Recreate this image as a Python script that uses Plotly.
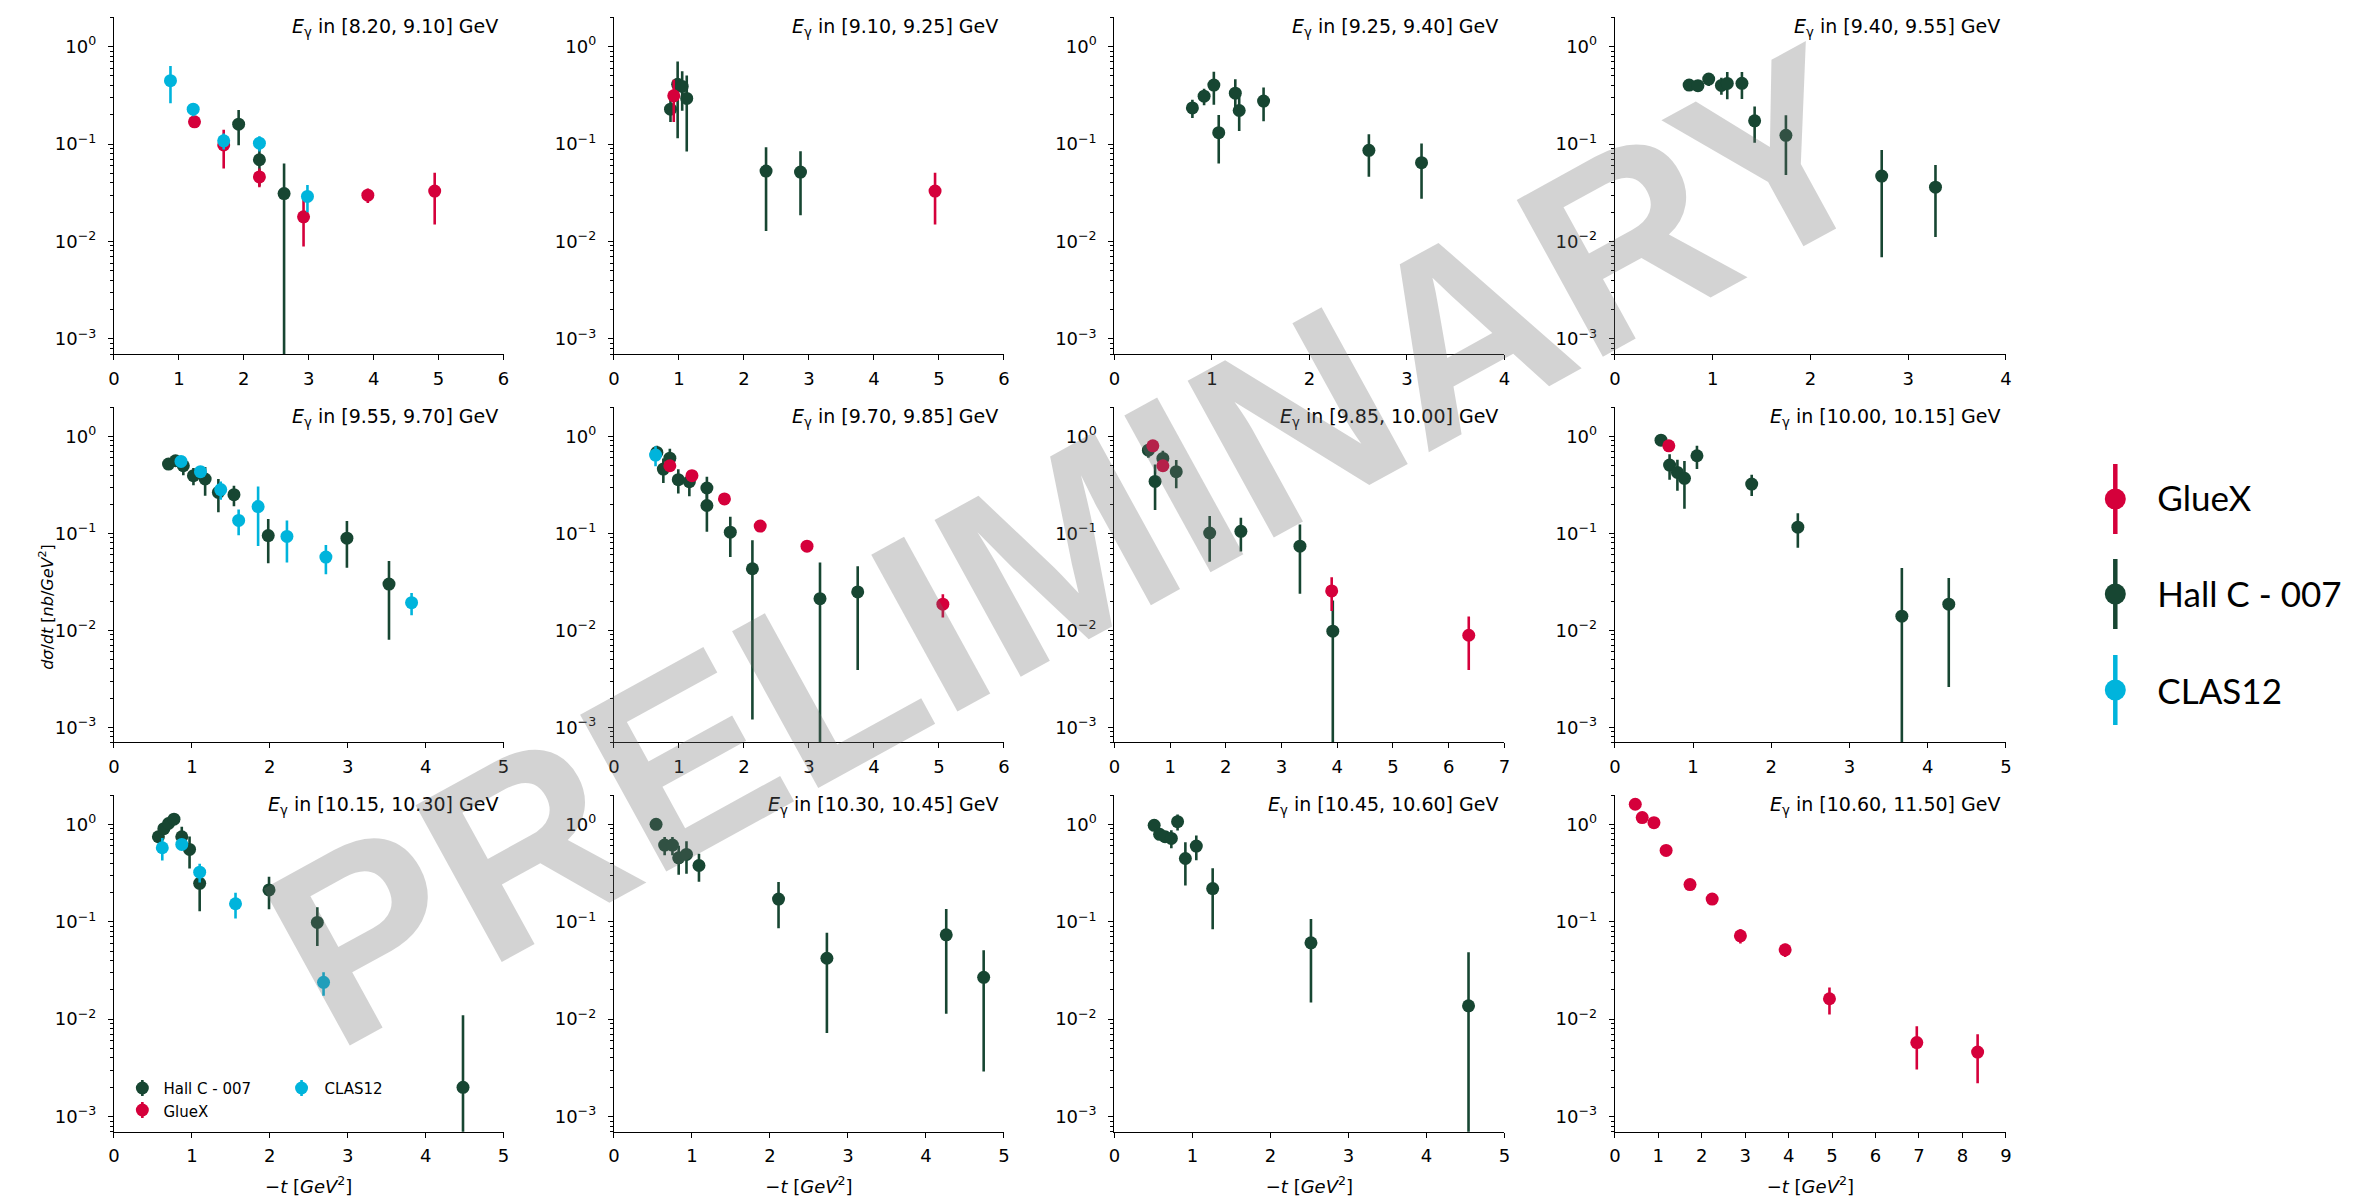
import math
import plotly.graph_objects as go

W, H = 2369, 1204
PAD = 8  # default page body margin that offsets the plot div

# ---------------- data ----------------
BIN_LABELS = ["[8.20, 9.10]", "[9.10, 9.25]", "[9.25, 9.40]", "[9.40, 9.55]",
              "[9.55, 9.70]", "[9.70, 9.85]", "[9.85, 10.00]", "[10.00, 10.15]",
              "[10.15, 10.30]", "[10.30, 10.45]", "[10.45, 10.60]", "[10.60, 11.50]"]
T_MAX = [6, 6, 4, 4, 5, 6, 7, 5, 5, 5, 5, 9]
Y_TICK_VALS = [1e-3, 1e-2, 1e-1, 1]
Y_TICK_TEXT = ["10<sup>−3</sup>", "10<sup>−2</sup>", "10<sup>−1</sup>", "10<sup>0</sup>"]

# panel 1: E in [8.20, 9.10]
P1_HALLC_T = [1.92, 2.24, 2.62]
P1_HALLC_Y = [0.160, 0.069, 0.031]
P1_HALLC_E = [0.063, 0.032, 0.032]
P1_GLUEX_T = [1.24, 1.69, 2.24, 2.92, 3.91, 4.94]
P1_GLUEX_Y = [0.169, 0.098, 0.046, 0.0179, 0.0299, 0.0329]
P1_GLUEX_E = [0.012, 0.042, 0.010, 0.009, 0.005, 0.018]
P1_CLAS_T = [0.87, 1.22, 1.69, 2.24, 2.98]
P1_CLAS_Y = [0.447, 0.228, 0.108, 0.102, 0.029]
P1_CLAS_E = [0.185, 0.035, 0.020, 0.018, 0.009]

# panel 2: E in [9.10, 9.25]
P2_HALLC_T = [0.87, 0.98, 1.05, 1.12, 2.34, 2.87]
P2_HALLC_Y = [0.228, 0.41, 0.39, 0.294, 0.0528, 0.0516]
P2_HALLC_E = [0.06, 0.295, 0.17, 0.21, 0.04, 0.033]
P2_GLUEX_T = [0.92, 4.94]
P2_GLUEX_Y = [0.313, 0.0329]
P2_GLUEX_E = [0.145, 0.018]

# panel 3: E in [9.25, 9.40]
P3_HALLC_T = [0.80, 0.92, 1.02, 1.07, 1.24, 1.28, 1.53, 2.61, 3.15]
P3_HALLC_Y = [0.235, 0.31, 0.403, 0.131, 0.333, 0.221, 0.276, 0.0863, 0.0644]
P3_HALLC_E = [0.05, 0.06, 0.15, 0.068, 0.13, 0.085, 0.105, 0.04, 0.037]

# panel 4: E in [9.40, 9.55]
P4_HALLC_T = [0.76, 0.85, 0.96, 1.09, 1.15, 1.30, 1.43, 1.75, 2.73, 3.28]
P4_HALLC_Y = [0.403, 0.397, 0.465, 0.40, 0.419, 0.42, 0.173, 0.123, 0.0469, 0.0361]
P4_HALLC_E = [0.03, 0.05, 0.07, 0.08, 0.13, 0.13, 0.07, 0.075, 0.04, 0.025]

# panel 5: E in [9.55, 9.70]
P5_HALLC_T = [0.70, 0.79, 0.89, 1.02, 1.17, 1.34, 1.54, 1.98, 2.99, 3.53]
P5_HALLC_Y = [0.519, 0.562, 0.499, 0.394, 0.364, 0.265, 0.251, 0.0951, 0.0893, 0.030]
P5_HALLC_E = [0.05, 0.06, 0.10, 0.08, 0.12, 0.10, 0.06, 0.046, 0.045, 0.022]
P5_CLAS_T = [0.86, 1.11, 1.37, 1.60, 1.85, 2.22, 2.72, 3.82]
P5_CLAS_Y = [0.553, 0.433, 0.283, 0.136, 0.189, 0.093, 0.057, 0.0193]
P5_CLAS_E = [0.05, 0.05, 0.06, 0.04, 0.115, 0.043, 0.019, 0.005]

# panel 6: E in [9.70, 9.85]
P6_HALLC_T = [0.66, 0.76, 0.86, 0.99, 1.16, 1.43, 1.43, 1.79, 2.13, 3.17, 3.75]
P6_HALLC_Y = [0.684, 0.461, 0.598, 0.358, 0.342, 0.294, 0.194, 0.103, 0.0432, 0.0212, 0.0249]
P6_HALLC_E = [0.12, 0.13, 0.15, 0.10, 0.10, 0.09, 0.09, 0.046, 0.042, 0.029, 0.021]
P6_GLUEX_T = [0.86, 1.20, 1.70, 2.25, 2.97, 5.06]
P6_GLUEX_Y = [0.499, 0.394, 0.227, 0.119, 0.0739, 0.0186]
P6_GLUEX_E = [0.04, 0.03, 0.02, 0.015, 0.006, 0.005]
P6_CLAS_T = [0.64]
P6_CLAS_Y = [0.643]
P6_CLAS_E = [0.15]

# panel 7: E in [9.85, 10.00]
P7_HALLC_T = [0.61, 0.73, 0.87, 1.11, 1.71, 2.27, 3.33, 3.92]
P7_HALLC_Y = [0.723, 0.344, 0.594, 0.433, 0.101, 0.105, 0.0739, 0.0098]
P7_HALLC_E = [0.12, 0.17, 0.12, 0.14, 0.05, 0.04, 0.05, 0.0105]
P7_GLUEX_T = [0.69, 0.87, 3.90, 6.36]
P7_GLUEX_Y = [0.80, 0.499, 0.0255, 0.0089]
P7_GLUEX_E = [0.10, 0.04, 0.0097, 0.005]

# panel 8: E in [10.00, 10.15]
P8_HALLC_T = [0.59, 0.70, 0.80, 0.89, 1.05, 1.75, 2.34, 3.67, 4.27]
P8_HALLC_Y = [0.917, 0.507, 0.426, 0.37, 0.633, 0.323, 0.116, 0.014, 0.0186]
P8_HALLC_E = [0.05, 0.15, 0.15, 0.19, 0.17, 0.08, 0.045, 0.03, 0.016]
P8_GLUEX_T = [0.69]
P8_GLUEX_Y = [0.80]
P8_GLUEX_E = [0.05]

# panel 9: E in [10.15, 10.30]
P9_HALLC_T = [0.57, 0.64, 0.70, 0.77, 0.87, 0.97, 1.10, 1.99, 2.61, 4.48]
P9_HALLC_Y = [0.746, 0.902, 1.02, 1.13, 0.746, 0.552, 0.248, 0.212, 0.0985, 0.002]
P9_HALLC_E = [0.05, 0.06, 0.08, 0.10, 0.20, 0.20, 0.12, 0.078, 0.042, 0.009]
P9_CLAS_T = [0.62, 0.87, 1.10, 1.56, 2.69]
P9_CLAS_Y = [0.575, 0.622, 0.323, 0.153, 0.0239]
P9_CLAS_E = [0.15, 0.06, 0.07, 0.045, 0.0065]

# panel 10: E in [10.30, 10.45]
P10_HALLC_T = [0.54, 0.65, 0.75, 0.83, 0.93, 1.09, 2.11, 2.73, 4.26, 4.74]
P10_HALLC_Y = [1.0, 0.612, 0.612, 0.453, 0.491, 0.378, 0.171, 0.0422, 0.0734, 0.0269]
P10_HALLC_E = [0.05, 0.13, 0.13, 0.15, 0.18, 0.12, 0.085, 0.035, 0.062, 0.024]

# panel 11: E in [10.45, 10.60]
P11_HALLC_T = [0.51, 0.58, 0.65, 0.73, 0.81, 0.91, 1.05, 1.26, 2.52, 4.54]
P11_HALLC_Y = [0.976, 0.789, 0.746, 0.717, 1.065, 0.446, 0.598, 0.219, 0.0608, 0.0137]
P11_HALLC_E = [0.05, 0.10, 0.10, 0.15, 0.20, 0.21, 0.17, 0.135, 0.046, 0.035]

# panel 12: E in [10.60, 11.50]
P12_GLUEX_T = [0.47, 0.63, 0.90, 1.18, 1.73, 2.24, 2.89, 3.92, 4.94, 6.95, 8.35]
P12_GLUEX_Y = [1.607, 1.172, 1.04, 0.54, 0.241, 0.171, 0.0717, 0.0515, 0.0162, 0.00575, 0.0046]
P12_GLUEX_E = [0.05, 0.05, 0.05, 0.03, 0.02, 0.01, 0.012, 0.008, 0.005, 0.0027, 0.0024]

EMPTY = ([], [], [])
PANELS = [
    {"hallc": (P1_HALLC_T, P1_HALLC_Y, P1_HALLC_E), "gluex": (P1_GLUEX_T, P1_GLUEX_Y, P1_GLUEX_E), "clas": (P1_CLAS_T, P1_CLAS_Y, P1_CLAS_E)},
    {"hallc": (P2_HALLC_T, P2_HALLC_Y, P2_HALLC_E), "gluex": (P2_GLUEX_T, P2_GLUEX_Y, P2_GLUEX_E), "clas": EMPTY},
    {"hallc": (P3_HALLC_T, P3_HALLC_Y, P3_HALLC_E), "gluex": EMPTY, "clas": EMPTY},
    {"hallc": (P4_HALLC_T, P4_HALLC_Y, P4_HALLC_E), "gluex": EMPTY, "clas": EMPTY},
    {"hallc": (P5_HALLC_T, P5_HALLC_Y, P5_HALLC_E), "gluex": EMPTY, "clas": (P5_CLAS_T, P5_CLAS_Y, P5_CLAS_E)},
    {"hallc": (P6_HALLC_T, P6_HALLC_Y, P6_HALLC_E), "gluex": (P6_GLUEX_T, P6_GLUEX_Y, P6_GLUEX_E), "clas": (P6_CLAS_T, P6_CLAS_Y, P6_CLAS_E)},
    {"hallc": (P7_HALLC_T, P7_HALLC_Y, P7_HALLC_E), "gluex": (P7_GLUEX_T, P7_GLUEX_Y, P7_GLUEX_E), "clas": EMPTY},
    {"hallc": (P8_HALLC_T, P8_HALLC_Y, P8_HALLC_E), "gluex": (P8_GLUEX_T, P8_GLUEX_Y, P8_GLUEX_E), "clas": EMPTY},
    {"hallc": (P9_HALLC_T, P9_HALLC_Y, P9_HALLC_E), "gluex": EMPTY, "clas": (P9_CLAS_T, P9_CLAS_Y, P9_CLAS_E)},
    {"hallc": (P10_HALLC_T, P10_HALLC_Y, P10_HALLC_E), "gluex": EMPTY, "clas": EMPTY},
    {"hallc": (P11_HALLC_T, P11_HALLC_Y, P11_HALLC_E), "gluex": EMPTY, "clas": EMPTY},
    {"hallc": EMPTY, "gluex": (P12_GLUEX_T, P12_GLUEX_Y, P12_GLUEX_E), "clas": EMPTY},
]

# ---------------- style ----------------
COLORS = {"hallc": "#174632", "gluex": "#d5003b", "clas": "#00b4dc"}
NAMES = {"hallc": "Hall C - 007", "gluex": "GlueX", "clas": "CLAS12"}
FONT = "DejaVu Sans"
COLS = [(108.5, 500), (611, 1003), (1114, 1506), (1617, 2010)]
ROWS = [(17.3, 354), (407.3, 742.3), (795, 1131.7)]
Y_LO, Y_HI = 7e-4, 2.0
MINOR = [k * 10 ** e for e in range(-4, 1) for k in range(2, 10) if Y_LO <= k * 10 ** e <= Y_HI]


def px(x):
    return (x - PAD) / W


def py(y):
    return 1 - (y - PAD) / H


fig = go.Figure()
layout = dict(width=W, height=H, margin=dict(l=0, r=0, t=0, b=0),
              paper_bgcolor="white", plot_bgcolor="white",
              font=dict(family=FONT, size=18, color="black"))
annotations = []
shapes = []

for i in range(12):
    r, c = divmod(i, 4)
    s = "" if i == 0 else str(i + 1)
    xa = dict(domain=[px(COLS[c][0]), px(COLS[c][1])], anchor="y" + s,
              range=[0, T_MAX[i]], tick0=0, dtick=1, showgrid=False, zeroline=False,
              showline=True, linecolor="black", linewidth=1.3, ticks="outside",
              ticklen=5, tickwidth=1.3, tickcolor="black", ticklabelstandoff=3,
              tickfont=dict(family=FONT, size=18, color="black"))
    if r == 2:
        xa["title"] = dict(text="−<i>t</i> [<i>GeV</i><sup>2</sup>]", standoff=14,
                           font=dict(family=FONT, size=18, color="black"))
    ya = dict(domain=[py(ROWS[r][1]), py(ROWS[r][0])], anchor="x" + s,
              type="log", range=[math.log10(Y_LO), math.log10(Y_HI)],
              tickmode="array", tickvals=Y_TICK_VALS, ticktext=Y_TICK_TEXT,
              showgrid=False, zeroline=False, showline=True, linecolor="black",
              linewidth=1.3, ticks="outside", ticklen=5, tickwidth=1.3, tickcolor="black",
              ticklabelstandoff=8,
              tickfont=dict(family=FONT, size=18, color="black"),
              minor=dict(tickmode="array", tickvals=MINOR, ticks="outside", ticklen=3,
                         tickwidth=1, tickcolor="black", showgrid=False))
    layout["xaxis" + s] = xa
    layout["yaxis" + s] = ya

    annotations.append(dict(
        text="<i>E</i><sub>γ</sub> in " + BIN_LABELS[i] + " GeV",
        xref="x" + s + " domain", yref="y" + s + " domain", x=1, y=1,
        xanchor="right", yanchor="middle", xshift=-4, yshift=-10.5,
        showarrow=False, font=dict(family=FONT, size=19, color="black")))

    for key in ["hallc", "gluex", "clas"]:
        t, y, e = PANELS[i][key]
        if len(t) == 0:
            continue
        fig.add_trace(go.Scatter(
            x=t, y=y, mode="markers", name=NAMES[key], legendgroup=key, showlegend=False,
            marker=dict(size=13, color=COLORS[key], line=dict(width=0)),
            error_y=dict(type="data", array=e, visible=True, color=COLORS[key],
                         thickness=2.6, width=0),
            xaxis="x" + s, yaxis="y" + s))

# legend entries (their symbols are drawn below as error-bar glyphs)
LEGEND_ENTRIES = [("legend", "gluex", 1), ("legend", "hallc", 2), ("legend", "clas", 3),
                  ("legend2", "hallc", 1), ("legend2", "gluex", 2), ("legend3", "clas", 1)]
for leg, key, rank in LEGEND_ENTRIES:
    fig.add_trace(go.Scatter(
        x=[None], y=[None], mode="markers", name=NAMES[key], legendgroup=key,
        showlegend=True, legend=leg, legendrank=rank,
        marker=dict(size=13, color="rgba(0,0,0,0)", line=dict(width=0)),
        xaxis="x9", yaxis="y9"))

# big legend glyphs: marker with a long error bar
for key, yc in [("gluex", 499), ("hallc", 594), ("clas", 690)]:
    shapes.append(dict(type="line", xref="paper", yref="paper",
                       x0=px(2120), x1=px(2120), y0=py(yc - 35), y1=py(yc + 35),
                       line=dict(color=COLORS[key], width=4.5)))
    shapes.append(dict(type="circle", xref="paper", yref="paper",
                       xsizemode="pixel", ysizemode="pixel",
                       xanchor=px(2120), yanchor=py(yc), x0=-10.5, x1=10.5, y0=-10.5, y1=10.5,
                       fillcolor=COLORS[key], line=dict(width=0)))
# small in-panel legend glyphs
for key, xc, yc in [("hallc", 137, 1088), ("gluex", 137, 1110), ("clas", 297, 1088)]:
    shapes.append(dict(type="line", xref="paper", yref="paper",
                       x0=px(xc), x1=px(xc), y0=py(yc - 8), y1=py(yc + 8),
                       line=dict(color=COLORS[key], width=2.6)))
    shapes.append(dict(type="circle", xref="paper", yref="paper",
                       xsizemode="pixel", ysizemode="pixel",
                       xanchor=px(xc), yanchor=py(yc), x0=-6.5, x1=6.5, y0=-6.5, y1=6.5,
                       fillcolor=COLORS[key], line=dict(width=0)))

# y-axis label
annotations.append(dict(
    text="<i>dσ</i>/<i>dt</i> [<i>nb</i>/<i>GeV</i><sup>2</sup>]",
    xref="paper", yref="paper", x=px(40), y=py(607), xanchor="center", yanchor="middle",
    textangle=-90, showarrow=False, font=dict(family=FONT, size=16, color="black")))

# watermark
annotations.append(dict(
    text="PRELIMINARY", xref="paper", yref="paper", x=px(1071), y=py(546),
    xanchor="center", yanchor="middle", textangle=-28.8, showarrow=False,
    font=dict(family="Liberation Sans", size=260, color="rgba(108,108,108,0.3)",
              weight="bold")))

layout["annotations"] = annotations
layout["shapes"] = shapes

# legends (text only; glyphs are the shapes above)
layout["legend"] = dict(x=px(2122), y=py(468), xanchor="left", yanchor="top",
                        bgcolor="rgba(0,0,0,0)", tracegroupgap=48, itemwidth=30,
                        font=dict(family="Lato", size=35, color="black"))
layout["legend2"] = dict(x=px(118), y=py(1072), xanchor="left", yanchor="top",
                         bgcolor="rgba(0,0,0,0)", tracegroupgap=0, itemwidth=30,
                         font=dict(family=FONT, size=15, color="black"))
layout["legend3"] = dict(x=px(280), y=py(1072), xanchor="left", yanchor="top",
                         bgcolor="rgba(0,0,0,0)", tracegroupgap=0, itemwidth=30,
                         font=dict(family=FONT, size=15, color="black"))

fig.update_layout(**layout)
fig.write_html("out.html")
